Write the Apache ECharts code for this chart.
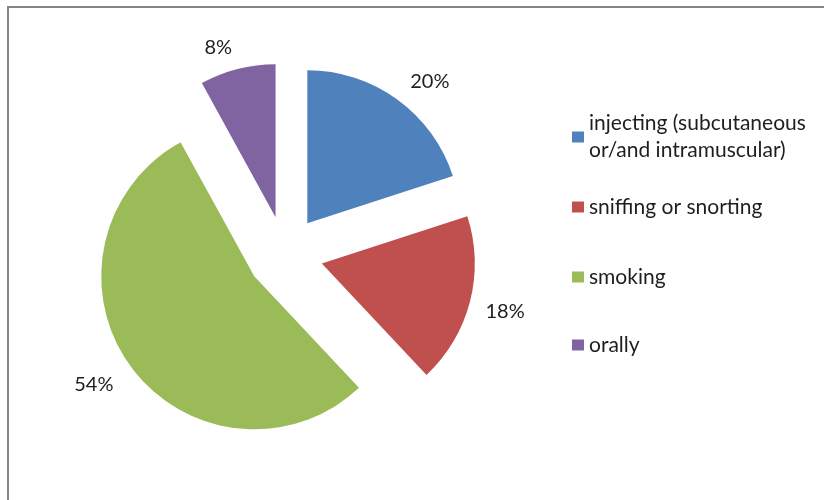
<!DOCTYPE html>
<html>
<head>
<meta charset="utf-8">
<script src="https://cdn.jsdelivr.net/npm/echarts@6/dist/echarts.min.js"></script>
<style>html,body{margin:0;padding:0;background:#fff}#c{width:824px;height:500px}</style>
</head>
<body>
<div id="c"></div>
<script>
const categories = ['injecting (subcutaneous\nor/and intramuscular)', 'sniffing or snorting', 'smoking', 'orally'];
const values = [20, 18, 54, 8];
const colors = ['#4F81BD', '#C0504D', '#9BBB59', '#8064A2'];
const labelLen = [22, 16, 21, 22];
const labelPadTop = [0, 12, 12, 0];
const legendTops = [96.5, 193.5, 263.5, 331.5];

const FONT = 'Lato';
const chart = echarts.init(document.getElementById('c'), null, {renderer: 'canvas'});

const legends = categories.map((name, i) => ({
  orient: 'vertical',
  left: 572,
  top: legendTops[i],
  padding: 0,
  itemWidth: 12,
  itemHeight: 11,
  icon: 'rect',
  selectedMode: false,
  data: [{
    name: name,
    textStyle: i === 0 ? {padding: [27, 0, 0, 0]} : {}
  }],
  textStyle: {fontFamily: FONT, fontSize: 21, color: '#1e1e1e', lineHeight: 27}
}));

chart.setOption({
  animation: false,
  color: colors,
  graphic: [{
    type: 'rect',
    shape: {x: 8, y: 7, width: 900, height: 600},
    style: {fill: 'none', stroke: '#858585', lineWidth: 2},
    silent: true
  }],
  legend: legends,
  series: [{
    type: 'pie',
    center: [285, 254],
    radius: 153,
    startAngle: 90,
    clockwise: true,
    selectedMode: 'multiple',
    selectedOffset: 38,
    emphasis: {disabled: true},
    label: {
      show: true,
      position: 'outside',
      formatter: '{v|{c}%}',
      fontFamily: FONT,
      fontSize: 20,
      color: '#1e1e1e',
      distanceToLabelLine: 0
    },
    labelLine: {show: false, length2: 0},
    data: categories.map((name, i) => ({
      name: name,
      value: values[i],
      selected: true,
      label: {
        rich: {v: {fontFamily: FONT, fontSize: 20, color: '#1e1e1e', padding: [labelPadTop[i], 0, 0, 0]}}
      },
      labelLine: {length: labelLen[i], length2: 0, show: false}
    }))
  }]
});
</script>
</body>
</html>
